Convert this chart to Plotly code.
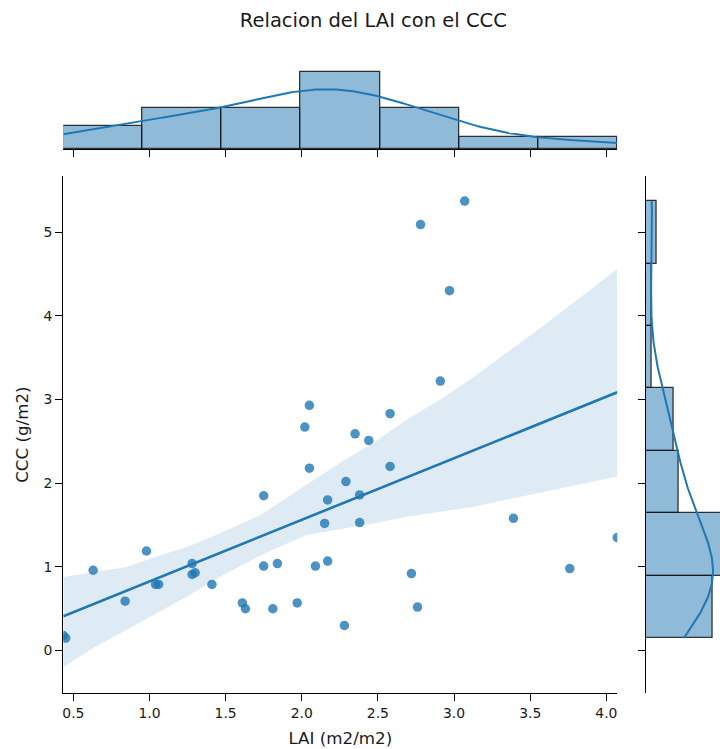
import numpy as np
import plotly.graph_objects as go

# ---- data ----
lai = [0.434, 0.45, 0.63, 0.84, 0.98, 1.04, 1.06, 1.28, 1.28, 1.30, 1.41, 1.61, 1.63,
       1.75, 1.75, 1.84, 1.81, 1.97, 2.05, 2.09, 2.15, 2.17, 2.17, 2.29, 2.28, 2.58,
       2.38, 2.38, 2.72, 2.76, 3.39, 3.76, 4.072, 2.05, 2.02, 3.07, 2.78, 2.97, 2.91,
       2.58, 2.35, 2.44]
ccc = [0.18, 0.15, 0.96, 0.59, 1.19, 0.79, 0.79, 1.04, 0.91, 0.93, 0.79, 0.57, 0.50,
       1.85, 1.01, 1.04, 0.50, 0.57, 2.18, 1.01, 1.52, 1.80, 1.07, 2.02, 0.30, 2.20,
       1.86, 1.53, 0.92, 0.52, 1.58, 0.98, 1.35, 2.93, 2.67, 5.37, 5.09, 4.30, 3.22,
       2.83, 2.59, 2.51]

# confidence band of the regression
band_x = [0.434, 0.63, 0.85, 1.07, 1.25, 1.46, 1.73, 2.03, 2.25, 2.47, 2.69, 2.91, 3.13, 3.60, 4.072]
band_hi = [0.88, 0.94, 1.00, 1.14, 1.24, 1.40, 1.62, 1.98, 2.24, 2.48, 2.76, 3.00, 3.27, 3.90, 4.56]
band_lo = [-0.20, 0.03, 0.25, 0.47, 0.65, 0.88, 1.14, 1.38, 1.45, 1.52, 1.60, 1.66, 1.72, 1.90, 2.08]

x_ticks = [0.5, 1.0, 1.5, 2.0, 2.5, 3.0, 3.5, 4.0]
y_ticks = [0, 1, 2, 3, 4, 5]
n_bins = 7

title = "Relacion del LAI con el CCC"
x_label = "LAI (m2/m2)"
y_label = "CCC (g/m2)"

# ---- derived ----
xa = np.array(lai)
ya = np.array(ccc)
n = len(xa)

slope, intercept = np.polyfit(xa, ya, 1)
xl = np.array([xa.min(), xa.max()])
yl = intercept + slope * xl


def kde_counts(v, grid, binw):
    bw = len(v) ** (-1 / 5) * np.std(v, ddof=1)
    d = np.exp(-0.5 * ((grid[:, None] - v[None, :]) / bw) ** 2).sum(axis=1)
    d /= (len(v) * bw * np.sqrt(2 * np.pi))
    return d * len(v) * binw


cx, ex = np.histogram(xa, bins=n_bins, range=(xa.min(), xa.max()))
cy, ey = np.histogram(ya, bins=n_bins, range=(ya.min(), ya.max()))
bwx = ex[1] - ex[0]
bwy = ey[1] - ey[0]
gx = np.linspace(xa.min(), xa.max(), 200)
gy = np.linspace(ya.min(), ya.max(), 200)
kx = kde_counts(xa, gx, bwx)
ky = kde_counts(ya, gy, bwy)

BLUE = "#1f77b4"
FILL = "rgba(31,119,180,0.5)"
EDGE = "rgba(20,20,20,0.85)"
FONT = "DejaVu Sans"
W, H = 720, 749

fig = go.Figure()

# CI band
fig.add_trace(go.Scatter(x=band_x, y=band_hi, mode="lines", line=dict(width=0),
                         showlegend=False, hoverinfo="skip"))
fig.add_trace(go.Scatter(x=band_x, y=band_lo, mode="lines", line=dict(width=0),
                         fill="tonexty", fillcolor="rgba(31,119,180,0.15)",
                         showlegend=False, hoverinfo="skip"))
# points
fig.add_trace(go.Scatter(x=lai, y=ccc, mode="markers",
                         marker=dict(color=BLUE, size=9.5, opacity=0.8, line=dict(width=0)),
                         showlegend=False, cliponaxis=True))
# regression line
fig.add_trace(go.Scatter(x=xl, y=yl, mode="lines", line=dict(color=BLUE, width=2.6),
                         showlegend=False))

# top marginal histogram
fig.add_trace(go.Bar(x=(ex[:-1] + ex[1:]) / 2, y=cx, width=bwx,
                     marker=dict(color=FILL, line=dict(color=EDGE, width=1.3)),
                     xaxis="x2", yaxis="y2", showlegend=False))
fig.add_trace(go.Scatter(x=gx, y=kx, mode="lines", line=dict(color=BLUE, width=2),
                         xaxis="x2", yaxis="y2", showlegend=False))

# right marginal histogram
fig.add_trace(go.Bar(y=(ey[:-1] + ey[1:]) / 2, x=cy, width=bwy, orientation="h",
                     marker=dict(color=FILL, line=dict(color=EDGE, width=1.3)),
                     xaxis="x3", yaxis="y3", showlegend=False))
fig.add_trace(go.Scatter(x=ky, y=gy, mode="lines", line=dict(color=BLUE, width=2),
                         xaxis="x3", yaxis="y3", showlegend=False))

xd = [63.3 / W, 617.3 / W]
yd = [(H - 693.3) / H, (H - 176) / H]

axis_common = dict(showgrid=False, zeroline=False, showline=True, linecolor="black",
                   linewidth=1.25, ticks="outside", ticklen=7, tickwidth=1.25,
                   tickcolor="black", automargin=False)

fig.update_layout(
    width=W, height=H,
    margin=dict(l=0, r=0, t=0, b=0),
    plot_bgcolor="white", paper_bgcolor="white",
    font=dict(family=FONT, color="#1a1a1a"),
    bargap=0,
    title=dict(text=title, x=373.3 / W, xanchor="center", y=1 - 20 / H, yanchor="middle",
               font=dict(size=19.5, family=FONT, color="#1a1a1a")),
    xaxis=dict(domain=xd, range=[xa.min(), xa.max()], tickvals=x_ticks,
               ticktext=[f"{v:.1f}" for v in x_ticks], tickfont=dict(size=13.9),
               title=dict(text=x_label, font=dict(size=16.7), standoff=12),
               anchor="y", **axis_common),
    yaxis=dict(domain=yd, range=[-0.51, 5.67], tickvals=y_ticks,
               tickfont=dict(size=13.9),
               title=dict(text=y_label, font=dict(size=16.7), standoff=10),
               anchor="x", **axis_common),
    xaxis2=dict(domain=xd, matches="x", tickvals=x_ticks, showticklabels=False,
                anchor="y2", **axis_common),
    yaxis2=dict(domain=[(H - 149.3) / H, (H - 46) / H], range=[0, (149.3 - 46) / 5.92],
                visible=False, anchor="x2"),
    xaxis3=dict(domain=[645.7 / W, 1.0], range=[0, 74.3 / 5.55], visible=False, anchor="y3"),
    yaxis3=dict(domain=yd, matches="y", tickvals=y_ticks, showticklabels=False,
                anchor="x3", **axis_common),
)

fig.write_html("out.html")
